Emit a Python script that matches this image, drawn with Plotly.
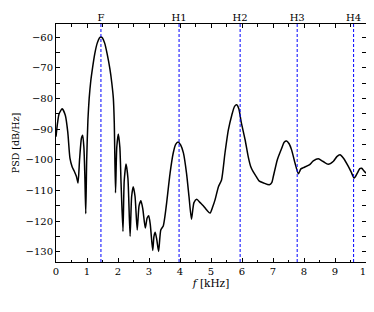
import plotly.graph_objects as go

# Spectrum
f_khz = [0.0, 0.05, 0.1, 0.2, 0.3, 0.38, 0.45, 0.52, 0.6, 0.66, 0.71, 0.76, 0.82, 0.86, 0.9, 0.93, 0.96,
         0.99, 1.03, 1.07, 1.12, 1.18, 1.25, 1.33, 1.4, 1.45, 1.5, 1.57, 1.65, 1.74, 1.8, 1.85, 1.88, 1.92,
         1.96, 2.01, 2.06, 2.1, 2.16, 2.2, 2.26, 2.32, 2.39, 2.44, 2.49, 2.55, 2.62, 2.68, 2.74, 2.8, 2.88,
         2.94, 2.99, 3.04, 3.12, 3.16, 3.2, 3.25, 3.31, 3.38, 3.46, 3.52, 3.57, 3.68, 3.78, 3.86, 3.94,
         4.02, 4.11, 4.21, 4.29, 4.37, 4.45, 4.54, 4.65, 4.75, 4.87, 4.97, 5.05, 5.13, 5.24, 5.34, 5.45,
         5.56, 5.67, 5.76, 5.83, 5.9, 5.97, 6.1, 6.2, 6.28, 6.36, 6.46, 6.56, 6.7, 6.88, 6.96, 7.01, 7.14,
         7.28, 7.36, 7.44, 7.52, 7.6, 7.71, 7.82, 7.9, 7.98, 8.17, 8.3, 8.46, 8.62, 8.78, 8.95, 9.06, 9.16,
         9.28, 9.43, 9.52, 9.62, 9.72, 9.8, 9.86, 9.93, 10.0]
psd_db = [-92.5, -88, -85, -83.4, -85.5, -91, -99.5, -102.3, -104, -105.5, -107.6, -100, -93, -92, -96,
          -105, -117.6, -100, -87, -80, -74.5, -70, -65.5, -62, -60.3, -60, -60.3, -62, -65.5, -70.5, -75,
          -80, -88, -110.8, -96, -91.6, -96, -108, -123.4, -107, -101.4, -106, -125, -112, -108.8, -112,
          -122.9, -115, -113.4, -116, -122.3, -119, -118.3, -121, -129.6, -125, -123.7, -126, -129.9,
          -122.9, -121.6, -118, -114, -104.4, -97.9, -95, -94.2, -95.2, -97.8, -104.4, -112, -119.4, -114,
          -112.9, -114, -115, -116.5, -117.4, -115.5, -113.1, -108.8, -106.6, -97.9, -90.3, -85.5, -82.6,
          -82.1, -83.5, -87.5, -93.5, -99, -102.2, -103.9, -105.5, -107, -107.6, -108.2, -107.5, -105.5,
          -100, -96.3, -94.3, -93.9, -94.8, -96.8, -101.1, -104.6, -103, -102.6, -101.7, -100.4, -99.7,
          -100.6, -101.5, -100.5, -99, -98.4, -99.6, -102.2, -104, -106, -104.4, -102.9, -102.8, -103.6,
          -104.4]

harm_labels = ["F", "H1", "H2", "H3", "H4"]
harm_khz = [1.45, 3.97, 5.94, 7.78, 9.6]

FONT = "DejaVu Serif"

fig = go.Figure()
fig.add_trace(go.Scatter(x=f_khz, y=psd_db, mode="lines",
                         line=dict(color="black", width=1.5, shape="spline", smoothing=0.6),
                         showlegend=False, hoverinfo="skip"))
# invisible trace to activate top axis
fig.add_trace(go.Scatter(x=[0, 10], y=[-100, -100], xaxis="x2", mode="lines",
                         line=dict(width=0), showlegend=False, hoverinfo="skip"))

for h in harm_khz:
    fig.add_shape(type="line", x0=h, x1=h, y0=0, y1=1, xref="x", yref="paper",
                  line=dict(color="blue", width=1, dash="3px,2px"), layer="above")

tickfont = dict(family=FONT, size=10, color="black")
# page body has an 8px margin, so the figure is 8px smaller and margins compensate
fig.update_layout(
    width=366, height=304,
    margin=dict(l=48, r=8, t=16, b=50),
    paper_bgcolor="white", plot_bgcolor="white",
    font=dict(family=FONT, size=10, color="black"),
    xaxis=dict(range=[0, 10], tickvals=list(range(0, 11)), ticks="inside", ticklen=4,
               tickcolor="black", tickwidth=1, showline=True, linecolor="black", linewidth=1,
               mirror="allticks", showgrid=False, zeroline=False, tickfont=tickfont, automargin=False,
               minor=dict(dtick=0.5, ticks="inside", ticklen=2.5, tickcolor="black", showgrid=False),
               title=dict(text="<i>f</i> [kHz]", font=dict(family=FONT, size=10.5), standoff=0)),
    xaxis2=dict(range=[0, 10], overlaying="x", side="top", tickvals=harm_khz, ticktext=harm_labels,
                ticks="", showgrid=False, zeroline=False, showline=False, tickfont=tickfont,
                automargin=False),
    yaxis=dict(range=[-133.36, -55.76], tickvals=[-130, -120, -110, -100, -90, -80, -70, -60],
               ticktext=["\u2212130", "\u2212120", "\u2212110", "\u2212100", "\u221290", "\u221280",
                         "\u221270", "\u221260"],
               ticks="inside", ticklen=4, tickcolor="black", tickwidth=1, showline=True,
               linecolor="black", linewidth=1, mirror="allticks", showgrid=False, zeroline=False,
               tickfont=tickfont, automargin=False,
               minor=dict(dtick=5, ticks="inside", ticklen=2.5, tickcolor="black", showgrid=False),
               title=dict(text="PSD [dB/Hz]", font=dict(family=FONT, size=9.5), standoff=4)),
)

fig.write_html("out.html")
